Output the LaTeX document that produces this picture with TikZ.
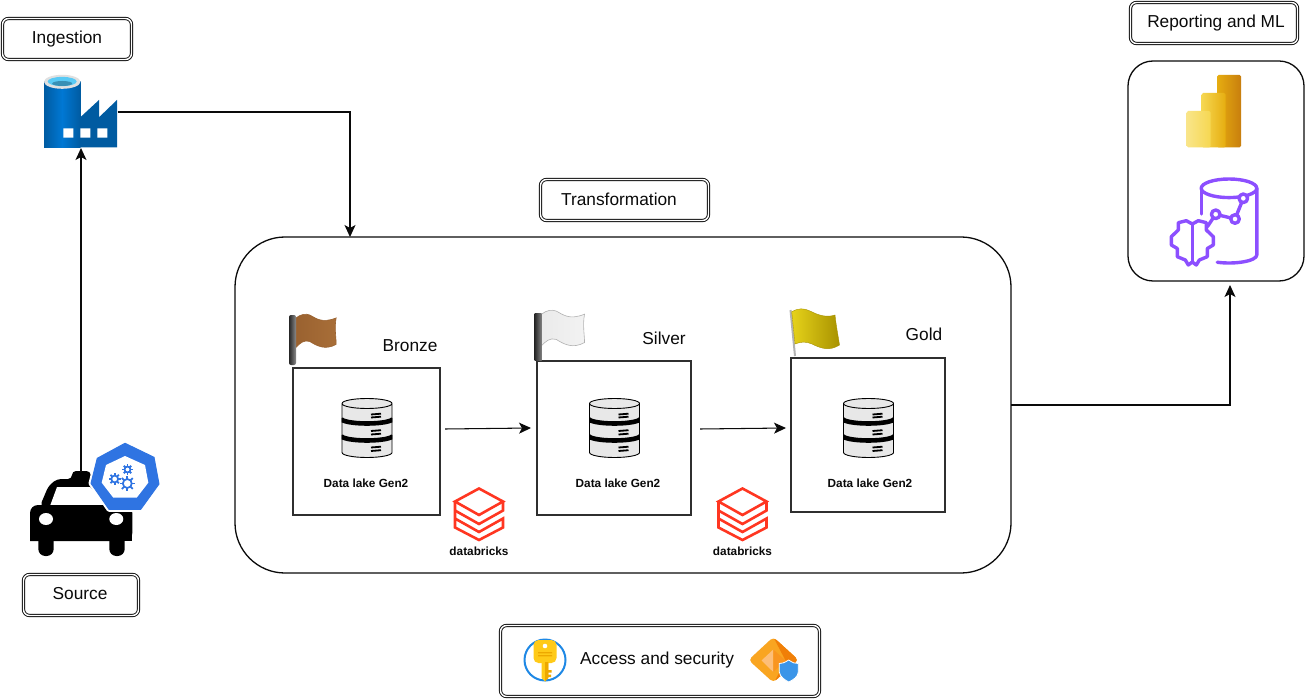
\documentclass[tikz,border=0pt]{standalone}
\usepackage{fontspec}
\setmainfont{Liberation Sans}
\usetikzlibrary{arrows.meta}
\definecolor{inkc}{HTML}{0A0A0A}
\definecolor{kblue}{HTML}{2F74E2}
\definecolor{dbred}{HTML}{FF3621}
\definecolor{awspurple}{HTML}{8C4FFF}
\definecolor{azdark}{HTML}{005BA1}
\definecolor{azmid}{HTML}{0078D4}
\definecolor{pbA}{HTML}{E6AD10}
\definecolor{pbB}{HTML}{C87E0E}
\definecolor{pbC}{HTML}{F6D751}
\definecolor{pbD}{HTML}{F9E589}
\definecolor{brA}{HTML}{9A6230}
\definecolor{brB}{HTML}{E8B478}
\definecolor{brC}{HTML}{A86E38}
\definecolor{goA}{HTML}{E6D21A}
\definecolor{goB}{HTML}{F8EE60}
\definecolor{goC}{HTML}{A89200}
\definecolor{keyA}{HTML}{FFCA18}
\definecolor{keyB}{HTML}{EDA800}
\definecolor{idA}{HTML}{F9A521}
\definecolor{idB}{HTML}{F07F08}
\definecolor{idC}{HTML}{FDBE78}
\definecolor{idD}{HTML}{F9951F}
\definecolor{shieldc}{HTML}{3B95E8}
\definecolor{ringc}{HTML}{1E88E5}
\tikzset{
  x=1pt,y=-1pt,
  dblbox/.style={draw=inkc,double=white,double distance=1.4pt,line width=.95pt,rounded corners=6pt,outer sep=0pt,inner sep=0pt},
  panel/.style={draw=inkc,line width=1.3pt,outer sep=0pt,fill=white},
  layerbox/.style={draw=inkc!85,line width=1.3pt,outer sep=0pt,fill=white},
  blank/.style={outer sep=0pt,inner sep=0pt},
  title/.style={font=\fontsize{17.3}{20}\selectfont,text=inkc,inner sep=0pt},
  small/.style={font=\fontsize{11.8}{14}\bfseries\selectfont,text=inkc,inner sep=0pt},
  flow/.style={draw=inkc,line width=1.05pt,-{Stealth[length=12pt,width=11pt,inset=3pt]}},
  dbstroke/.style={draw=dbred,line width=2.6pt,line join=miter,fill=none},
  purple/.style={draw=awspurple,line width=3.4pt,line cap=round,line join=round,fill=none},
}
\newcommand{\dbicon}[1]{%
  \begin{scope}[shift={(#1,398.5)}]
    \path[fill=black!9,draw=black,line width=.9pt] (-25,5) -- (-25,54) arc[start angle=180,end angle=360,x radius=25pt,y radius=5pt] -- (25,5) arc[start angle=0,end angle=360,x radius=25pt,y radius=5pt];
    \begin{scope}
      \clip (-25.4,5) -- (-25.4,60) -- (25.4,60) -- (25.4,5) -- cycle;
      \draw[black,line width=4.6pt] (-26,20) arc[start angle=180,end angle=360,x radius=26pt,y radius=5pt];
      \draw[black,line width=4.6pt] (-26,37) arc[start angle=180,end angle=360,x radius=26pt,y radius=5pt];
    \end{scope}
    \foreach \yy in {16,19,32.5,36,49,52.5}{\draw[black,line width=1.8pt] (4,\yy) -- (14,\yy-.8);}
  \end{scope}}
\newcommand{\dbricks}[1]{%
  \begin{scope}[shift={(#1,0)}]
    \draw[dbstroke] (0,488.5) -- (24,501.5) -- (0,515) -- (-24,501.5) -- cycle;
    \draw[dbstroke] (24,502) -- (24,510.5) -- (0,524) -- (-24,510.5);
    \draw[dbstroke] (-24,502) -- (-24,527.5) -- (0,540) -- (24,527.5) -- (24,518.5) -- (0,532) -- (-24,518.5);
  \end{scope}}
\newcommand{\gearicon}[3]{%
  \draw[kblue,line width=1.7pt] (#1,#2) circle[radius=#3*0.62pt];
  \foreach \aa in {0,45,...,315}{\draw[kblue,line width=1.8pt] (#1,#2) ++(\aa:#3*0.62pt) -- ++(\aa:#3*0.45pt);}}
\newcommand{\flagshape}{(0,4) .. controls (5,0) and (10,-.5) .. (14,1) .. controls (20,4) and (26,10) .. (41,4) .. controls (39,14) and (41,24) .. (41,31) .. controls (30,37) and (22,33) .. (14,28) .. controls (8,26) and (4,30) .. (0,34) -- cycle}
\begin{document}
\begin{tikzpicture}
\useasboundingbox (0,0) rectangle (1305,700);
\fill[white] (0,0) rectangle (1305,700);

% panels
\node[panel,rounded corners=50pt,minimum width=776pt,minimum height=336pt] (transform) at (623,405) {};
\node[panel,rounded corners=25pt,minimum width=176pt,minimum height=220pt] (report) at (1216,171) {};
\node[layerbox,minimum width=147pt,minimum height=147pt] (bronze) at (366.5,441.5) {};
\node[layerbox,minimum width=154pt,minimum height=154pt] (silver) at (614,438) {};
\node[layerbox,minimum width=154pt,minimum height=154pt] (gold) at (868,435) {};

% labelled frames
\node[dblbox,minimum width=129pt,minimum height=41pt] (ingestion) at (67,39) {};
\node[title] (ingestiontxt) at (67,39.5) {Ingestion};
\node[dblbox,minimum width=115pt,minimum height=41pt] (source) at (81,595) {};
\node[title] (sourcetxt) at (80,594) {Source};
\node[dblbox,minimum width=167pt,minimum height=41pt] (reporting) at (1214,23) {};
\node[title] (reportingtxt) at (1216,23.5) {Reporting and ML};
\node[dblbox,minimum width=168pt,minimum height=41pt] (transformation) at (624.5,200) {};
\node[title] (transformationtxt) at (619,199) {Transformation};
\node[dblbox,minimum width=319pt,minimum height=71pt] (access) at (660,661) {};
\node[title] (accesstxt) at (657,660.5) {Access and security};

% layer labels
\node[title] (bronzetxt) at (410,345.5) {Bronze};
\node[title] (silvertxt) at (664,338) {Silver};
\node[title] (goldtxt) at (924,334) {Gold};
\node[small] (lake1) at (366,483.5) {Data lake Gen2};
\node[small] (lake2) at (618,483.5) {Data lake Gen2};
\node[small] (lake3) at (870,483.5) {Data lake Gen2};
\node[small] (brick1) at (479,551) {databricks};
\node[small] (brick2) at (742.5,551) {databricks};

\dbicon{367}\dbicon{614.5}\dbicon{868.5}
\dbricks{479}\dbricks{742.5}

% flags
\begin{scope}[shift={(296,314)},scale=.98]
  \shade[left color=brA,middle color=brB,right color=brC,draw=brA,line width=.6pt] \flagshape;
\end{scope}
\shade[left color=black!85,right color=black!45,rounded corners=2pt] (289,315) rectangle (296,365);
\begin{scope}[shift={(541.5,310)},scale=1.05]
  \shade[left color=black!8,middle color=white,right color=black!5,draw=black!30,line width=.6pt] \flagshape;
\end{scope}
\shade[left color=black!85,right color=black!50] (534.5,313) rectangle (541.5,360);
\draw[black!30,line width=2pt] (790.5,310) -- (795,356);
\shade[left color=goA,middle color=goB,right color=goC,draw=goC,line width=.4pt] (791.7,311.7) .. controls (798,308) and (804,308) .. (810,311) .. controls (818,315) and (826,318) .. (835,315) .. controls (836,325) and (838,335) .. (839.5,345) .. controls (830,351) and (822,349) .. (812,344) .. controls (806,341) and (800,342) .. (795,344) -- cycle;

% factory
\node[blank,minimum width=73pt,minimum height=72pt] (factory) at (81,112) {};
\shade[left color=azdark,right color=azmid] (44,82) -- (44,147.3) -- (62,147.3) -- (62,82) -- cycle;
\shade[left color=azmid,right color=azdark] (62,82) -- (62,147.3) -- (80.5,147.3) -- (80.5,82) -- cycle;
\fill[azdark] (80.3,147.3) -- (80.3,117.3) -- (99,100) -- (99,117.3) -- (117,100) -- (117,147.3) -- cycle;
\fill[black!12] (62.2,81.8) ellipse[x radius=18.2pt,y radius=7pt];
\fill[cyan!65!white] (62.2,81.5) ellipse[x radius=14.5pt,y radius=4.6pt];
\fill[cyan!70!black] (62.2,83.5) ellipse[x radius=10pt,y radius=2.5pt];
\fill[white] (63.3,128.3) rectangle (73.3,137.7) (80.3,128.3) rectangle (90.3,137.7) (97.3,128.3) rectangle (107.3,137.7);

% car
\node[blank,minimum width=103pt,minimum height=84pt] (car) at (81,514) {};
\fill[black,rounded corners=4pt] (40,506) -- (48.5,486) -- (57,479) -- (72,479) -- (72,471) -- (90.5,471) -- (91,479) -- (100,479) -- (120,510) -- cycle;
\fill[white] (50,506) -- (57,487) -- (90,487) -- (112,506) -- cycle;
\fill[black,rounded corners=8pt] (30,541) -- (30,505) -- (132.3,505) -- (132.3,541) [sharp corners] -- cycle;
\fill[black] (30,530) rectangle (132.3,541);
\fill[black,rounded corners=7pt] (38.3,535) rectangle (53.7,556);
\fill[black,rounded corners=7pt] (109.3,535) rectangle (124.7,556);
\fill[white] (46,519) ellipse[x radius=7pt,y radius=6pt];
\fill[white] (116.3,519) ellipse[x radius=7pt,y radius=6pt];
% kubernetes badge
\path[draw=white,line width=5pt,line join=round] (125,443.3) -- (154,457.3) -- (159,484) -- (140.7,509.3) -- (109,509.3) -- (91,483.3) -- (97.3,458.3) -- cycle;
\path[fill=kblue,draw=kblue,line width=1pt,line join=round] (125,443.3) -- (154,457.3) -- (159,484) -- (140.7,509.3) -- (109,509.3) -- (91,483.3) -- (97.3,458.3) -- cycle;
\fill[white] (125,456) -- (145,465) -- (148.3,482.7) -- (136.7,497.7) -- (113.3,497.7) -- (101.7,482.7) -- (106,465) -- cycle;
\gearicon{114.7}{479}{5.5}
\gearicon{127.5}{469.5}{4.8}
\gearicon{127.3}{483.5}{7.2}

% power bi
\shade[left color=pbA,right color=pbB,rounded corners=1.5pt] (1217,75) rectangle (1241,147.3);
\shade[left color=pbC,right color=pbA,rounded corners=1.5pt] (1201.7,93) rectangle (1225.7,147.3);
\shade[left color=pbD,right color=pbC,rounded corners=1.5pt] (1186.7,111) rectangle (1210.7,147.3);

% purple icon
\draw[purple] (1229,188.3) ellipse[x radius=27.8pt,y radius=9.3pt];
\draw[purple] (1201.2,188.3) -- (1201.2,214);
\draw[purple] (1256.8,188.3) -- (1256.8,255) arc[start angle=0,end angle=-115,x radius=27.8pt,y radius=8pt];
\draw[purple] (1207.3,226.7) -- (1215.7,214.3) -- (1235,219) -- (1243.3,198.3);
\foreach \px/\py in {1243.3/198.3,1235/219,1215.7/214.3}{\draw[purple,fill=white] (\px,\py) circle[radius=4.3pt];}
\draw[purple] (1192.3,224) -- (1186.3,220.7) -- (1178.3,222.7) -- (1178.3,230) -- (1171.3,236.7) -- (1171.3,245) -- (1177.3,248.5) -- (1177.3,256.7) -- (1185.3,260) -- (1188.3,265) -- (1192.3,262) -- (1196.3,265) -- (1199.3,260) -- (1207.3,256.7) -- (1207.3,248.5) -- (1213.3,245) -- (1213.3,236.7) -- (1206.3,230) -- (1206.3,222.7) -- (1198.3,220.7) -- cycle;
\draw[purple] (1192.3,224) -- (1192.3,262);

% key
\draw[draw=ringc,fill=white,line width=2pt] (545,660) circle[radius=20.5pt];
\fill[keyA,rounded corners=5pt] (533.5,640) rectangle (556.5,663);
\fill[keyA] (541.7,660) -- (548.3,660) -- (548.3,678) -- (545,681.5) -- (541.7,678) -- cycle;
\fill[keyB] (545,662) -- (548.3,662) -- (548.3,678) -- (545,681.5) -- cycle;
\fill[keyB] (548,670) rectangle (551.5,672.5) (548,674.5) rectangle (551,677);
\fill[keyB] (538,652) rectangle (552,653.3) (538,655) rectangle (552,656.3);
\fill[white] (545,646) circle[radius=2.3pt];

% managed identity
\begin{scope}
  \clip[rounded corners=4pt] (773.3,637) -- (748.5,660) -- (773.3,682.5) -- (798.5,660) -- cycle;
  \fill[idA] (745,635) rectangle (800,685);
  \fill[idB] (773.3,637) -- (800,660) -- (773.3,684) -- (785.5,660.5) -- cycle;
  \fill[idC] (761.5,660.5) -- (773.3,649.5) -- (773.3,672) -- cycle;
  \fill[idD] (773.3,649.5) -- (785.5,660.5) -- (773.3,672) -- cycle;
\end{scope}
\path[fill=shieldc,draw=white,line width=.8pt] (788.7,660) .. controls (784,663) and (782,663.5) .. (779.3,663.5) -- (779.3,672) .. controls (780,677) and (785,680) .. (788.7,682) .. controls (793,680) and (798,677) .. (798.3,672) -- (798.3,663.5) .. controls (795,663.5) and (793,663) .. (788.7,660) -- cycle;

% connectors
\coordinate (intransform) at (350,237);
\coordinate (outbronze) at (445,429);
\coordinate (insilver) at (531,428);
\coordinate (outsilver) at (700,429);
\coordinate (ingold) at (786,428);
\coordinate (outtransform) at (1011,405);
\coordinate (inreport) at (1230,285);
\draw[flow] (car.north) -- (factory.south);
\draw[flow] (factory.east) -| (intransform);
\draw[flow] (outbronze) -- (insilver);
\draw[flow] (outsilver) -- (ingold);
\draw[flow] (outtransform) -| (inreport);
\end{tikzpicture}
\end{document}
